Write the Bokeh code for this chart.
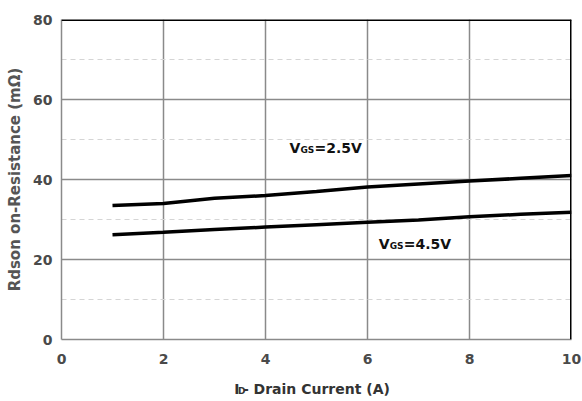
from bokeh.plotting import figure
from bokeh.models import Label, Span, SingleIntervalTicker, Range1d
from bokeh.layouts import column
from bokeh.embed import file_html
from bokeh.resources import INLINE

# Data
drain_current = [1, 2, 3, 4, 5, 6, 7, 8, 9, 10]
rdson_vgs25 = [33.5, 34.0, 35.3, 36.0, 37.0, 38.1, 38.9, 39.6, 40.3, 41.0]
rdson_vgs45 = [26.2, 26.8, 27.5, 28.1, 28.7, 29.3, 29.9, 30.7, 31.3, 31.8]

x_ticks_interval = 2
y_ticks_interval = 20

FONT = "DejaVu Sans"
TICK_COLOR = "#4a4a4a"

p = figure(width=582, height=370, x_range=Range1d(0, 10), y_range=Range1d(0, 80),
           output_backend="svg", toolbar_location=None,
           min_border_left=61, min_border_right=11, min_border_top=19, min_border_bottom=31)
p.outline_line_color = None
p.background_fill_color = "white"
p.border_fill_color = "white"

p.xaxis.ticker = SingleIntervalTicker(interval=x_ticks_interval, num_minor_ticks=0)
p.yaxis.ticker = SingleIntervalTicker(interval=y_ticks_interval, num_minor_ticks=2)

for ax in (p.xaxis, p.yaxis):
    ax.axis_line_color = "#8a8a8a"
    ax.axis_line_width = 1.5
    ax.major_tick_line_color = None
    ax.minor_tick_line_color = None
    ax.major_tick_out = 0
    ax.major_tick_in = 0
    ax.minor_tick_out = 0
    ax.minor_tick_in = 0
    ax.major_label_text_font = FONT
    ax.major_label_text_font_style = "bold"
    ax.major_label_text_font_size = "14px"
    ax.major_label_text_color = TICK_COLOR

p.xaxis.major_label_standoff = 14
p.yaxis.major_label_standoff = 9

p.yaxis.axis_label = "Rdson on-Resistance (mΩ)"
p.yaxis.axis_label_text_font = FONT
p.yaxis.axis_label_text_font_style = "bold"
p.yaxis.axis_label_text_font_size = "15px"
p.yaxis.axis_label_text_color = "#555555"
p.yaxis.axis_label_standoff = 6

p.xgrid.grid_line_color = "#8a8a8a"
p.xgrid.grid_line_width = 1.5
p.ygrid.grid_line_color = "#8a8a8a"
p.ygrid.grid_line_width = 1.5
p.ygrid.minor_grid_line_color = "#d5d5d5"
p.ygrid.minor_grid_line_dash = "5 4"
p.ygrid.minor_grid_line_width = 1

p.line(drain_current, rdson_vgs25, line_color="black", line_width=3.5)
p.line(drain_current, rdson_vgs45, line_color="black", line_width=3.5)

# top and right black borders
p.add_layout(Span(location=80, dimension="width", line_color="black", line_width=3))
p.add_layout(Span(location=10, dimension="height", line_color="black", line_width=3))


def curve_label(x, y, value_text):
    common = dict(text_font=FONT, text_font_style="bold", text_color="#111111",
                  text_baseline="middle", x=x, y=y)
    p.add_layout(Label(text="V", text_font_size="14px", **common))
    p.add_layout(Label(text="GS", text_font_size="9px", x_offset=11, y_offset=-2, **common))
    p.add_layout(Label(text=value_text, text_font_size="14px", x_offset=25, **common))


curve_label(4.47, 47.9, "=2.5V")
curve_label(6.22, 23.9, "=4.5V")

# x axis title strip (separate panel so the subscript text is not clipped)
t = figure(width=582, height=30, x_range=Range1d(0, 582), y_range=Range1d(0, 30),
           output_backend="svg", toolbar_location=None,
           min_border_left=0, min_border_right=0, min_border_top=0, min_border_bottom=0)
t.axis.visible = False
t.grid.visible = False
t.outline_line_color = None
t.background_fill_color = "white"
t.border_fill_color = "white"

xt = dict(text_font=FONT, text_font_style="bold", text_color="#333333",
          text_baseline="middle")
t.add_layout(Label(text="I", text_font_size="14px", x=197, y=12, **xt))
t.add_layout(Label(text="D", text_font_size="9px", x=201.5, y=9.5, **xt))
t.add_layout(Label(text="- Drain Current (A)", text_font_size="14px", x=207, y=12, **xt))

layout = column(p, t, spacing=0)

open("out.html", "w").write(file_html(layout, INLINE))
